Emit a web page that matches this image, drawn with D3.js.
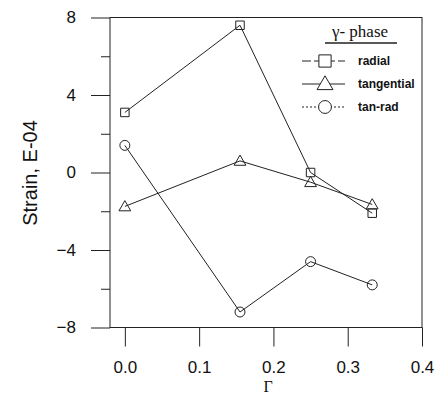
<!DOCTYPE html>
<html>
<head>
<meta charset="utf-8">
<script src="https://cdn.jsdelivr.net/npm/d3@7"></script>
<style>
  html, body { margin: 0; padding: 0; background: #fff; }
  svg { display: block; }
</style>
</head>
<body>
<svg id="chart" width="435" height="396"></svg>
<script>
// ---- data ----
const gamma = [0.0, 0.155, 0.25, 0.333];
const radial = [3.1, 7.6, 0.0, -2.1];
const tangential = [-1.75, 0.6, -0.5, -1.65];
const tanRad = [1.4, -7.2, -4.6, -5.8];
const seriesNames = ["radial", "tangential", "tan-rad"];
const xTicks = [0.0, 0.1, 0.2, 0.3, 0.4];
const yMajorTicks = [-8, -4, 0, 4, 8];
const yMinorTicks = [-6, -2, 2, 6];
const legendTitle = "γ- phase";
const xTitle = "Γ";
const yTitle = "Strain, E-04";

// ---- layout ----
const svg = d3.select("#chart");
const L = 110, R = 422, T = 17.5, B = 327.5;
const x = d3.scaleLinear().domain([-0.02, 0.4]).range([L, R]);
const y = d3.scaleLinear().domain([-8, 8]).range([B, T]);
const ink = "#222";
const sans = "Liberation Sans, Arial, Helvetica, sans-serif";
const serif = "Liberation Serif, Times New Roman, serif";

// frame
svg.append("rect").attr("x", L).attr("y", T).attr("width", R - L).attr("height", B - T)
  .attr("fill", "none").attr("stroke", ink).attr("stroke-width", 1);

// x axis
const xAxis = svg.append("g").attr("transform", `translate(0,${B})`)
  .call(d3.axisBottom(x).tickValues(xTicks).tickFormat(d3.format(".1f"))
    .tickSizeInner(19).tickSizeOuter(0).tickPadding(14));
xAxis.select(".domain").remove();
xAxis.selectAll("line").attr("stroke", ink);
xAxis.selectAll("text").attr("font-family", sans).attr("font-size", 17).attr("fill", "#111");

// y axis major
const yAxis = svg.append("g").attr("transform", `translate(${L},0)`)
  .call(d3.axisLeft(y).tickValues(yMajorTicks).tickFormat(d3.format("d"))
    .tickSizeInner(19).tickSizeOuter(0).tickPadding(15));
yAxis.select(".domain").remove();
yAxis.selectAll("line").attr("stroke", ink);
yAxis.selectAll("text").attr("font-family", sans).attr("font-size", 17).attr("fill", "#111");

// y axis minor
const yMinor = svg.append("g").attr("transform", `translate(${L},0)`)
  .call(d3.axisLeft(y).tickValues(yMinorTicks).tickFormat("").tickSizeInner(9).tickSizeOuter(0));
yMinor.select(".domain").remove();
yMinor.selectAll("line").attr("stroke", ink);

// axis titles
svg.append("text").attr("x", 268).attr("y", 392).attr("text-anchor", "middle")
  .attr("font-family", serif).attr("font-size", 16).attr("fill", "#111").text(xTitle);
svg.append("text").attr("transform", "translate(37,173) rotate(-90)").attr("text-anchor", "middle")
  .attr("font-family", sans).attr("font-size", 20).attr("fill", "#111").text(yTitle);

// ---- series ----
const seriesData = [radial, tangential, tanRad];
const symbols = [d3.symbolSquare, d3.symbolTriangle, d3.symbolCircle];
const symSizes = [72, 60, 78];
const legendSizes = [150, 110, 130];
const legendDashes = ["9,3", null, "2,2"];

const line = d3.line().x((d, i) => x(gamma[i])).y(d => y(d));
seriesData.forEach((vals, k) => {
  svg.append("path").datum(vals).attr("d", line)
    .attr("fill", "none").attr("stroke", ink).attr("stroke-width", 1);
  svg.selectAll(null).data(vals).enter().append("path")
    .attr("transform", (d, i) => `translate(${x(gamma[i])},${y(d) + (k === 1 ? 1 : 0)})`)
    .attr("d", d3.symbol().type(symbols[k]).size(symSizes[k]))
    .attr("fill", "none").attr("stroke", ink).attr("stroke-width", 1);
});

// ---- legend ----
svg.append("text").attr("x", 360).attr("y", 37).attr("text-anchor", "middle")
  .attr("font-family", serif).attr("font-size", 17).attr("fill", "#111").text(legendTitle);
svg.append("line").attr("x1", 325).attr("x2", 397).attr("y1", 43).attr("y2", 43)
  .attr("stroke", ink).attr("stroke-width", 1.5);

const legY = [61, 84, 107];
seriesNames.forEach((name, k) => {
  const g = svg.append("g");
  g.append("line").attr("x1", 302).attr("x2", 345).attr("y1", legY[k]).attr("y2", legY[k])
    .attr("stroke", ink).attr("stroke-width", 1).attr("stroke-dasharray", legendDashes[k]);
  g.append("path").attr("transform", `translate(325,${legY[k] + (k === 1 ? 1 : 0)})`)
    .attr("d", d3.symbol().type(symbols[k]).size(legendSizes[k]))
    .attr("fill", "#fff").attr("stroke", ink).attr("stroke-width", 1);
  g.append("text").attr("x", 358).attr("y", legY[k] + 4)
    .attr("font-family", sans).attr("font-size", 12).attr("font-weight", "bold")
    .attr("fill", "#111").text(name);
});
</script>
</body>
</html>
